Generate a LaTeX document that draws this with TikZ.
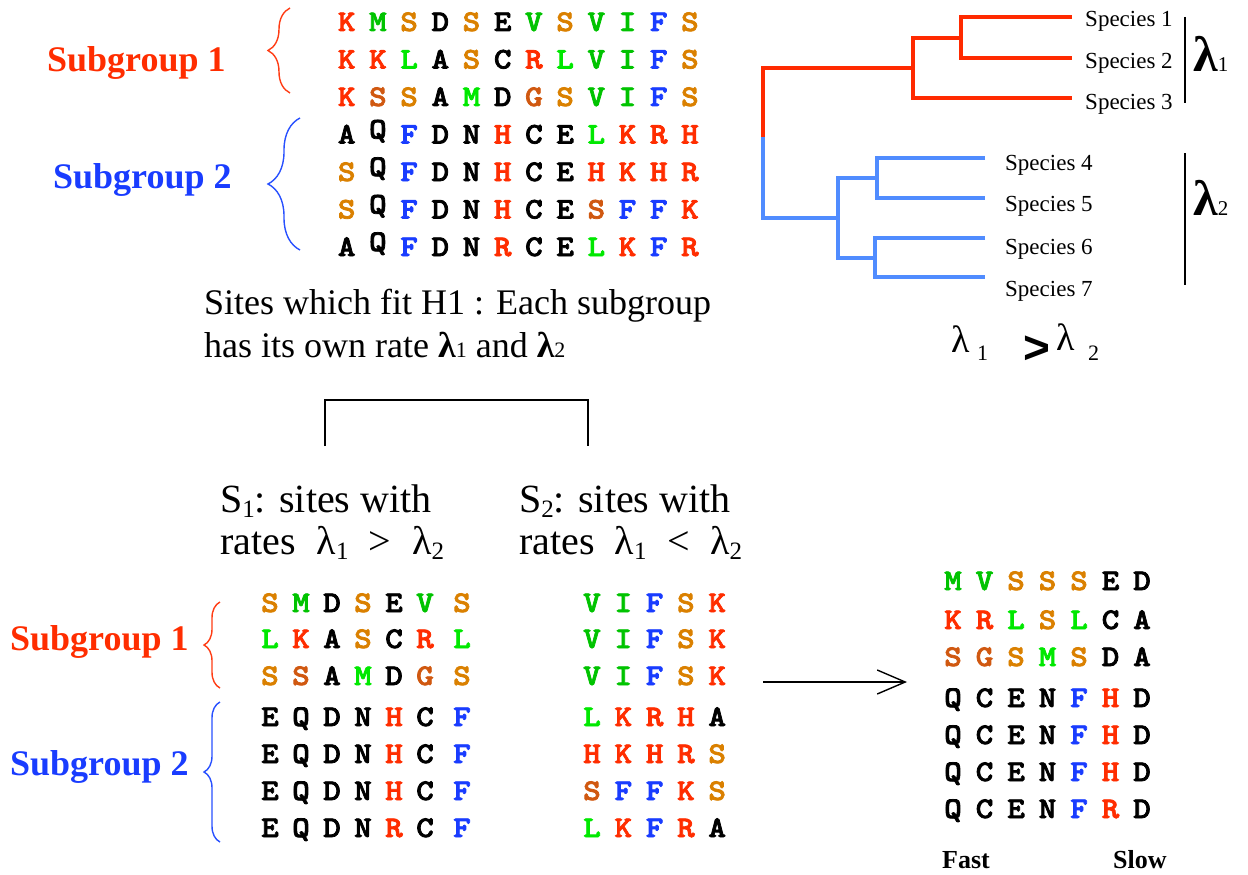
\documentclass[tikz,border=0pt]{standalone}
\usepackage{fontspec}
\setmainfont{Liberation Serif}
\newfontfamily\aafam{lmmonolt10-bold.otf}[FakeBold=2.5,FakeStretch=1.12]
\newfontfamily\sansb{Liberation Sans}
\usetikzlibrary{decorations.pathreplacing,arrows.meta}
\definecolor{cr}{RGB}{255,45,0}
\definecolor{cg}{RGB}{0,195,0}
\definecolor{cl}{RGB}{0,232,0}
\definecolor{co}{RGB}{218,128,0}
\definecolor{cu}{RGB}{208,88,16}
\definecolor{cb}{RGB}{25,60,255}
\definecolor{ck}{RGB}{0,0,0}
\definecolor{tr}{RGB}{255,42,0}
\definecolor{tb}{RGB}{80,140,255}
\definecolor{br}{RGB}{255,60,20}
\definecolor{bb}{RGB}{40,80,255}
\newcommand\rQ{\raisebox{5pt}{Q}}
\newcommand\fsz[1]{\fontsize{#1}{#1}\selectfont}
\newcommand\sbs[1]{\smash{\raisebox{-5pt}{\fsz{25}#1}}}
\newcommand\alnrow[6]{%
  \foreach \aach/\aacol [count=\i] in {#6} {%
    \node[aa,text=\aacol] (#1-\i) at ({#2+(\i-1)*#3+(\i==7)*#4},#5) {\aach};}}
\begin{document}
\begin{tikzpicture}[x=1pt,y=-1pt,
  aa/.style={font=\aafam\fsz{30}, inner sep=0pt, text height=18pt, text depth=0pt},
  sgl/.style={anchor=base west, inner sep=0pt, font=\bfseries\fsz{36}},
  spl/.style={anchor=base west, inner sep=0pt, font=\fsz{23}},
  txt/.style={anchor=base west, inner sep=0pt},
  trr/.style={draw=tr, line width=3.5pt, line join=miter},
  trb/.style={draw=tb, line width=3.5pt, line join=miter},
  brc/.style={decorate, line width=1.4pt},
  bar/.style={line width=2.4pt}]
\useasboundingbox (0,0) rectangle (1248,875);

% ---------- top alignment ----------
\alnrow{ta1}{346.7}{31.2}{0}{22}{K/cr,M/cg,S/co,D/ck,S/co,E/ck,V/cg,S/co,V/cg,I/cg,F/cb,S/co}
\alnrow{ta2}{346.7}{31.2}{0}{59.5}{K/cr,K/cr,L/cl,A/ck,S/co,C/ck,R/cr,L/cl,V/cg,I/cg,F/cb,S/co}
\alnrow{ta3}{346.7}{31.2}{0}{97}{K/cr,S/cu,S/co,A/ck,M/cl,D/ck,G/cu,S/co,V/cg,I/cg,F/cb,S/co}
\alnrow{ta4}{346.7}{31.2}{0}{134.5}{A/ck,\rQ/ck,F/cb,D/ck,N/ck,H/cr,C/ck,E/ck,L/cl,K/cr,R/cr,H/cr}
\alnrow{ta5}{346.7}{31.2}{0}{172}{S/co,\rQ/ck,F/cb,D/ck,N/ck,H/cr,C/ck,E/ck,H/cr,K/cr,H/cr,R/cr}
\alnrow{ta6}{346.7}{31.2}{0}{209.5}{S/co,\rQ/ck,F/cb,D/ck,N/ck,H/cr,C/ck,E/ck,S/cu,F/cb,F/cb,K/cr}
\alnrow{ta7}{346.7}{31.2}{0}{247}{A/ck,\rQ/ck,F/cb,D/ck,N/ck,R/cr,C/ck,E/ck,L/cl,K/cr,F/cb,R/cr}

\node[sgl,text=cr] (sg1) at (47,72) {Subgroup 1};
\node[sgl,text=cb] (sg2) at (53,188) {Subgroup 2};
\draw[brc,br,decoration={brace,amplitude=22pt}] (290,93) -- (290,8);
\draw[brc,bb,decoration={brace,amplitude=32pt}] (300,250) -- (300,118);

% ---------- tree ----------
\coordinate (root) at (763,137);
\coordinate (lf1) at (1072,17); \coordinate (lf2) at (1072,58); \coordinate (lf3) at (1072,98);
\coordinate (lf4) at (985,158); \coordinate (lf5) at (985,198); \coordinate (lf6) at (985,238); \coordinate (lf7) at (985,277);
\draw[trr] (lf1) -| (961,58) -- (lf2);
\draw[trr] (961,38) -- (913,38) |- (lf3);
\draw[trr] (913,68) -| (root);
\draw[trb] (root) |- (838,218);
\draw[trb] (lf4) -| (877,198) -- (lf5);
\draw[trb] (877,178) -- (838,178) |- (875,258);
\draw[trb] (lf6) -| (875,277) -- (lf7);

\node[spl] (sp1) at (1085,27) {Species 1};
\node[spl] (sp2) at (1085,69) {Species 2};
\node[spl] (sp3) at (1085,110) {Species 3};
\node[spl] (sp4) at (1005,170) {Species 4};
\node[spl] (sp5) at (1005,211) {Species 5};
\node[spl] (sp6) at (1005,254) {Species 6};
\node[spl] (sp7) at (1005,296) {Species 7};

\coordinate (b1t) at (1185,17); \coordinate (b1b) at (1185,103);
\coordinate (b2t) at (1185,153); \coordinate (b2b) at (1185,285);
\draw[bar] (b1t) -- (b1b);
\draw[bar] (b2t) -- (b2b);
\node[txt] (lam1) at (1193,72) {{\bfseries\fsz{50}λ}{\fsz{21}1}};
\node[txt] (lam2) at (1193,215) {{\bfseries\fsz{50}λ}{\fsz{21}2}};

\node[txt,font=\fsz{38}] (c1) at (951,352) {λ};
\node[txt,font=\fsz{22}] (c2) at (977,360) {1};
\node[txt,font=\sansb\bfseries\fsz{46}] (c3) at (1023,363) {>};
\node[txt,font=\fsz{38}] (c4) at (1056,350) {λ};
\node[txt,font=\fsz{22}] (c5) at (1088,360) {2};

% ---------- middle text ----------
\node[txt,font=\fsz{36}] (h1a) at (204,314) {Sites which fit H1 : Each subgroup};
\node[txt,font=\fsz{36}] (h1b) at (204,357) {has its own rate {\bfseries λ}{\fsz{22}1} and {\bfseries λ}{\fsz{22}2}};

\coordinate (kL) at (325,446); \coordinate (kR) at (588,446);
\draw[line width=1.3pt] (kL) -- (325,400) -- (588,400) -- (kR);

\node[txt,font=\fsz{40}] (s1a) at (220,512) {S\sbs{1}: sites with};
\node[txt,font=\fsz{40}] (s1b) at (220,554) {rates\hspace{21pt}λ\sbs{1}\hspace{20pt}>\hspace{21pt}λ\sbs{2}};
\node[txt,font=\fsz{40}] (s2a) at (519,512) {S\sbs{2}: sites with};
\node[txt,font=\fsz{40}] (s2b) at (519,554) {rates\hspace{20pt}λ\sbs{1}\hspace{21pt}<\hspace{20pt}λ\sbs{2}};

% ---------- bottom-left alignment ----------
\alnrow{bl1}{270}{31}{6}{603}{S/co,M/cg,D/ck,S/co,E/ck,V/cg,S/co}
\alnrow{bl2}{270}{31}{6}{639}{L/cl,K/cr,A/ck,S/co,C/ck,R/cr,L/cl}
\alnrow{bl3}{270}{31}{6}{676}{S/co,S/cu,A/ck,M/cl,D/ck,G/cu,S/co}
\alnrow{bl4}{270}{31}{6}{717}{E/ck,Q/ck,D/ck,N/ck,H/cr,C/ck,F/cb}
\alnrow{bl5}{270}{31}{6}{754}{E/ck,Q/ck,D/ck,N/ck,H/cr,C/ck,F/cb}
\alnrow{bl6}{270}{31}{6}{791}{E/ck,Q/ck,D/ck,N/ck,H/cr,C/ck,F/cb}
\alnrow{bl7}{270}{31}{6}{828}{E/ck,Q/ck,D/ck,N/ck,R/cr,C/ck,F/cb}

\node[sgl,text=cr] (sg3) at (10,650) {Subgroup 1};
\node[sgl,text=cb] (sg4) at (10,775) {Subgroup 2};
\draw[brc,br,decoration={brace,amplitude=16pt}] (220,688) -- (220,602);
\draw[brc,bb,decoration={brace,amplitude=16pt}] (220,842) -- (220,702);

% ---------- middle alignment ----------
\alnrow{ma1}{592}{31.3}{0}{603}{V/cg,I/cg,F/cb,S/co,K/cr}
\alnrow{ma2}{592}{31.3}{0}{639}{V/cg,I/cg,F/cb,S/co,K/cr}
\alnrow{ma3}{592}{31.3}{0}{676}{V/cg,I/cg,F/cb,S/co,K/cr}
\alnrow{ma4}{592}{31.3}{0}{717}{L/cl,K/cr,R/cr,H/cr,A/ck}
\alnrow{ma5}{592}{31.3}{0}{754}{H/cr,K/cr,H/cr,R/cr,S/co}
\alnrow{ma6}{592}{31.3}{0}{791}{S/cu,F/cb,F/cb,K/cr,S/co}
\alnrow{ma7}{592}{31.3}{0}{828}{L/cl,K/cr,F/cb,R/cr,A/ck}

\coordinate (aS) at (763,682); \coordinate (aE) at (907,682);
\draw[line width=1.4pt,-{Straight Barb[length=28pt,width=24pt,line width=1.4pt]}] (aS) -- (aE);

% ---------- right alignment ----------
\alnrow{ra1}{953}{31.5}{0}{581}{M/cg,V/cg,S/co,S/co,S/co,E/ck,D/ck}
\alnrow{ra2}{953}{31.5}{0}{620}{K/cr,R/cr,L/cl,S/co,L/cl,C/ck,A/ck}
\alnrow{ra3}{953}{31.5}{0}{657}{S/cu,G/cu,S/co,M/cl,S/co,D/ck,A/ck}
\alnrow{ra4}{953}{31.5}{0}{698}{Q/ck,C/ck,E/ck,N/ck,F/cb,H/cr,D/ck}
\alnrow{ra5}{953}{31.5}{0}{735}{Q/ck,C/ck,E/ck,N/ck,F/cb,H/cr,D/ck}
\alnrow{ra6}{953}{31.5}{0}{772}{Q/ck,C/ck,E/ck,N/ck,F/cb,H/cr,D/ck}
\alnrow{ra7}{953}{31.5}{0}{809}{Q/ck,C/ck,E/ck,N/ck,F/cb,R/cr,D/ck}

\node[txt,font=\bfseries\fsz{26}] (fast) at (942,868) {Fast};
\node[txt,font=\bfseries\fsz{26}] (slow) at (1113,868) {Slow};
\end{tikzpicture}
\end{document}
